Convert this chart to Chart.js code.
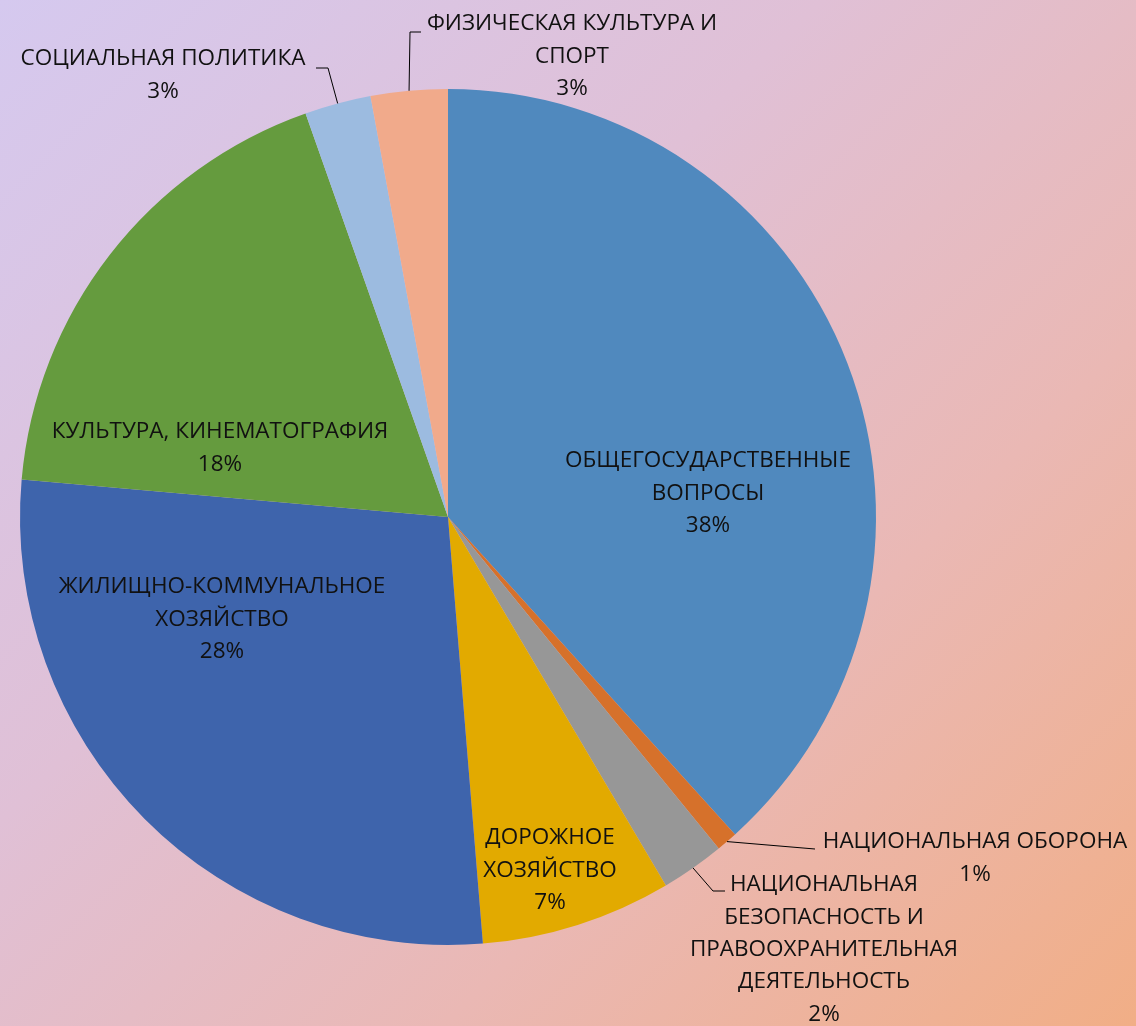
<!DOCTYPE html>
<html>
<head>
<meta charset="utf-8">
<script src="https://cdn.jsdelivr.net/npm/chart.js@4/dist/chart.umd.min.js"></script>
<style>
  html, body { margin: 0; padding: 0; }
  body { width: 1136px; height: 1026px; overflow: hidden;
    background: linear-gradient(135deg, #D5C9EF 0%, #E0C0D6 38%, #EAB8B4 68%, #F1AE86 100%); }
  #wrap { position: relative; width: 1136px; height: 1026px; }
</style>
</head>
<body>
<div id="wrap"><canvas id="c" width="1136" height="1026"></canvas></div>
<script>
// ---- data ----
const categories = [
  'ОБЩЕГОСУДАРСТВЕННЫЕ ВОПРОСЫ',
  'НАЦИОНАЛЬНАЯ ОБОРОНА',
  'НАЦИОНАЛЬНАЯ БЕЗОПАСНОСТЬ И ПРАВООХРАНИТЕЛЬНАЯ ДЕЯТЕЛЬНОСТЬ',
  'ДОРОЖНОЕ ХОЗЯЙСТВО',
  'ЖИЛИЩНО-КОММУНАЛЬНОЕ ХОЗЯЙСТВО',
  'КУЛЬТУРА, КИНЕМАТОГРАФИЯ',
  'СОЦИАЛЬНАЯ ПОЛИТИКА',
  'ФИЗИЧЕСКАЯ КУЛЬТУРА И СПОРТ'
];
const values = [38.3, 0.8, 2.4, 7.2, 27.7, 18.2, 2.5, 2.9];
const labelLines = [
  ['ОБЩЕГОСУДАРСТВЕННЫЕ', 'ВОПРОСЫ'],
  ['НАЦИОНАЛЬНАЯ ОБОРОНА'],
  ['НАЦИОНАЛЬНАЯ', 'БЕЗОПАСНОСТЬ И', 'ПРАВООХРАНИТЕЛЬНАЯ', 'ДЕЯТЕЛЬНОСТЬ'],
  ['ДОРОЖНОЕ', 'ХОЗЯЙСТВО'],
  ['ЖИЛИЩНО-КОММУНАЛЬНОЕ', 'ХОЗЯЙСТВО'],
  ['КУЛЬТУРА, КИНЕМАТОГРАФИЯ'],
  ['СОЦИАЛЬНАЯ ПОЛИТИКА'],
  ['ФИЗИЧЕСКАЯ КУЛЬТУРА И', 'СПОРТ']
];
const colors = ['#5089BE', '#D6712B', '#979797', '#E2AA00', '#3E64AC', '#659B3E', '#9CBBE0', '#F1AA8B'];

// ---- label layout (pixel positions of label block centres, first line) ----
const labelPos = [
  {x: 708, y: 461},
  {x: 975, y: 842},
  {x: 824, y: 885},
  {x: 550, y: 838},
  {x: 222, y: 587},
  {x: 220, y: 432},
  {x: 163, y: 59},
  {x: 572, y: 24}
];
// leader lines: points from label side, final point = slice edge (computed)
const leaders = {
  1: [[815, 849]],
  2: [[725, 891], [713, 891]],
  6: [[316, 68], [328, 68]],
  7: [[421, 32], [410, 32]]
};
const LINE_H = 32.3;
const FONT = '22.5px "Open Sans", "Noto Sans", sans-serif';

const total = values.reduce((a, b) => a + b, 0);
const pct = values.map(v => Math.round(v / total * 100) + '%');

const labelPlugin = {
  id: 'excelLabels',
  afterDatasetsDraw(chart) {
    const ctx = chart.ctx;
    const meta = chart.getDatasetMeta(0);
    ctx.save();
    ctx.strokeStyle = '#000';
    ctx.lineWidth = 1;
    Object.keys(leaders).forEach(k => {
      const i = +k;
      const arc = meta.data[i];
      const p = arc.getProps(['x', 'y', 'startAngle', 'endAngle', 'outerRadius'], true);
      const mid = (p.startAngle + p.endAngle) / 2;
      const ex = p.x + Math.cos(mid) * p.outerRadius;
      const ey = p.y + Math.sin(mid) * p.outerRadius;
      ctx.beginPath();
      const pts = leaders[k];
      ctx.moveTo(pts[0][0], pts[0][1]);
      for (let j = 1; j < pts.length; j++) ctx.lineTo(pts[j][0], pts[j][1]);
      ctx.lineTo(ex, ey);
      ctx.stroke();
    });
    ctx.fillStyle = '#111';
    ctx.font = FONT;
    ctx.textAlign = 'center';
    ctx.textBaseline = 'middle';
    labelLines.forEach((lines, i) => {
      const all = lines.concat([pct[i]]);
      all.forEach((t, j) => {
        ctx.fillText(t, labelPos[i].x, labelPos[i].y + j * LINE_H);
      });
    });
    ctx.restore();
  }
};

new Chart(document.getElementById('c'), {
  type: 'pie',
  data: {
    labels: categories,
    datasets: [{
      data: values,
      backgroundColor: colors,
      borderWidth: 0
    }]
  },
  options: {
    responsive: false,
    animation: false,
    layout: { padding: { left: 20, right: 260, top: 89, bottom: 81 } },
    plugins: {
      legend: { display: false },
      tooltip: { enabled: false }
    }
  },
  plugins: [labelPlugin]
});
</script>
</body>
</html>
